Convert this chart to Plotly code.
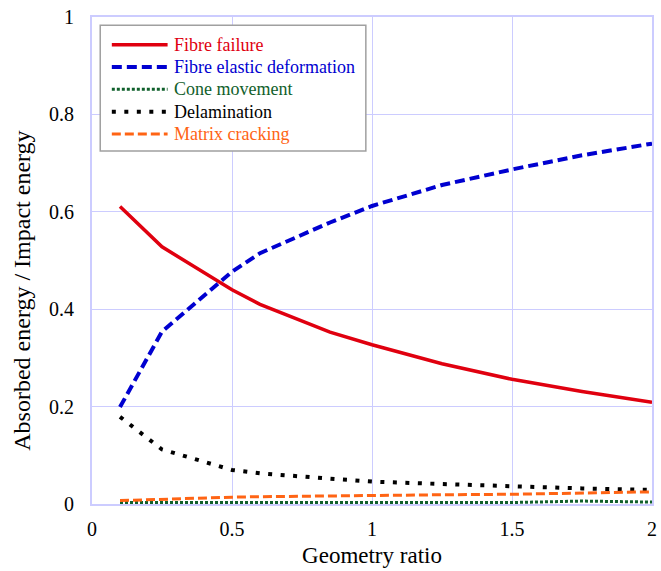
import plotly.graph_objects as go

# Geometry ratio sample points
geometry_ratio = [0.1, 0.25, 0.5, 0.6, 0.85, 1.0, 1.25, 1.5, 1.75, 2.0]

# Absorbed energy / impact energy for each mechanism
fibre_failure = [0.611, 0.528, 0.440, 0.410, 0.353, 0.327, 0.288, 0.256, 0.231, 0.209]
fibre_elastic = [0.199, 0.354, 0.477, 0.515, 0.578, 0.612, 0.655, 0.687, 0.716, 0.740]
cone_movement = [0.003, 0.003, 0.003, 0.003, 0.003, 0.003, 0.003, 0.003, 0.006, 0.004]
delamination = [0.179, 0.112, 0.070, 0.063, 0.052, 0.046, 0.041, 0.036, 0.032, 0.029]
matrix_cracking = [0.007, 0.010, 0.014, 0.015, 0.017, 0.018, 0.019, 0.020, 0.022, 0.025]

x_ticks = [0, 0.5, 1, 1.5, 2]
x_tick_text = ["0", "0.5", "1", "1.5", "2"]
y_ticks = [0, 0.2, 0.4, 0.6, 0.8, 1]
y_tick_text = ["0", "0.2", "0.4", "0.6", "0.8", "1"]

SERIF = "Times New Roman"
GRID = "#ccccff"

series = [
    ("Fibre failure", fibre_failure, "#e0000f", 3.5, "solid"),
    ("Fibre elastic deformation", fibre_elastic, "#0000d0", 4, "10px,5px"),
    ("Cone movement", cone_movement, "#11602c", 3, "3px,2px"),
    ("Delamination", delamination, "#000000", 4, "4px,8.5px"),
    ("Matrix cracking", matrix_cracking, "#ff6414", 3, "9px,4px"),
]

fig = go.Figure()
for name, values, color, width, dash in series:
    fig.add_trace(go.Scatter(
        x=geometry_ratio,
        y=values,
        mode="lines",
        name=name,
        line=dict(color=color, width=width, dash=dash),
    ))

# Hand-drawn legend box in the upper-left corner of the plot area
# (positions given as fractions of the plot area)
box_x0, box_x1 = 0.0147, 0.489
box_y0, box_y1 = 0.725, 0.983
sample_x0, sample_x1 = 0.0354, 0.135
text_x = 0.143
row_top = 0.943
row_step = 0.0458

shapes = [dict(
    type="rect", xref="paper", yref="paper",
    x0=box_x0, x1=box_x1, y0=box_y0, y1=box_y1,
    line=dict(color="#a0a0a0", width=1.5), fillcolor="white", layer="above",
)]
annotations = []
for i, (name, _, color, width, dash) in enumerate(series):
    yy = row_top - i * row_step
    shapes.append(dict(
        type="line", xref="paper", yref="paper",
        x0=sample_x0, x1=sample_x1, y0=yy, y1=yy,
        line=dict(color=color, width=width, dash=dash), layer="above",
    ))
    annotations.append(dict(
        xref="paper", yref="paper", x=text_x, y=yy,
        xanchor="left", yanchor="middle", showarrow=False,
        text=name, font=dict(family=SERIF, size=18, color=color),
    ))

# Vertical axis title
annotations.append(dict(
    xref="paper", yref="paper", x=-0.124, y=0.437,
    xanchor="center", yanchor="middle", showarrow=False, textangle=-90,
    text="Absorbed energy / Impact energy",
    font=dict(family=SERIF, size=24, color="black"),
))

fig.update_layout(
    width=661,
    height=571,
    margin=dict(l=92, r=4, t=17, b=67),
    paper_bgcolor="white",
    plot_bgcolor="white",
    font=dict(family=SERIF, size=20, color="black"),
    showlegend=False,
    shapes=shapes,
    annotations=annotations,
    xaxis=dict(
        range=[0, 2], tickvals=x_ticks, ticktext=x_tick_text,
        showgrid=True, gridcolor=GRID, gridwidth=1.2,
        showline=True, linecolor=GRID, linewidth=2, mirror="ticks",
        ticks="inside", ticklen=8, tickcolor=GRID,
        zeroline=False, ticklabelstandoff=6, layer="below traces",
        title=dict(text="Geometry ratio", font=dict(size=23), standoff=8),
    ),
    yaxis=dict(
        range=[0, 1], tickvals=y_ticks, ticktext=y_tick_text,
        showgrid=True, gridcolor=GRID, gridwidth=1.2,
        showline=True, linecolor=GRID, linewidth=2, mirror="ticks",
        ticks="inside", ticklen=8, tickcolor=GRID,
        zeroline=False, ticklabelstandoff=12, layer="below traces",
    ),
)

fig.write_html("out.html")
